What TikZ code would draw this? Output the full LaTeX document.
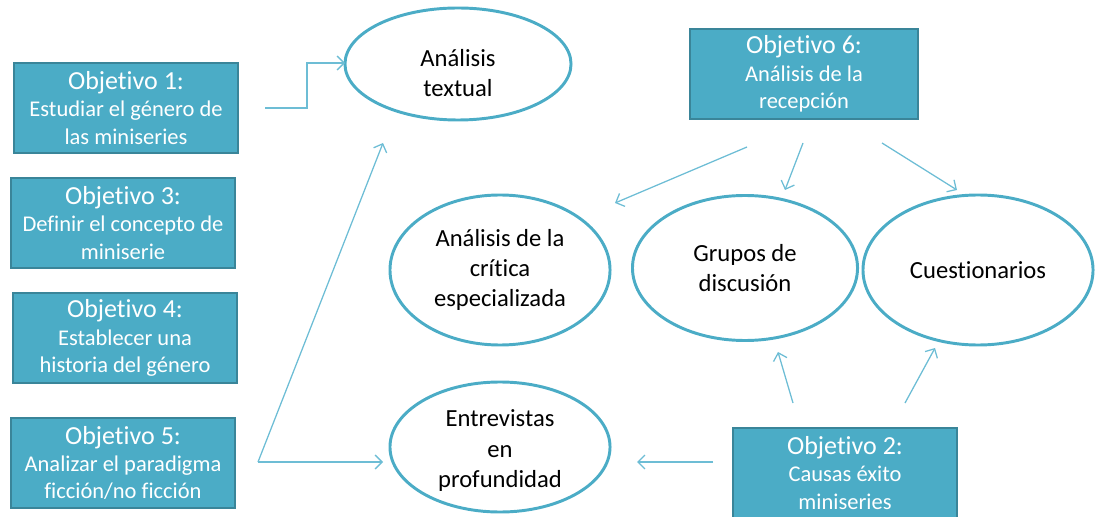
\documentclass[tikz,border=0pt]{standalone}
\usepackage{fontspec}
\setmainfont{Carlito}[Ligatures=NoCommon]
\usetikzlibrary{shapes.geometric,arrows.meta}
\definecolor{objfill}{HTML}{4BACC6}
\definecolor{objline}{HTML}{3A8599}
\definecolor{ovline}{HTML}{4BACC6}
\definecolor{arrline}{HTML}{6DBDD5}
\tikzset{
  objbox/.style={draw=objline, line width=1.4pt, fill=objfill, text=white,
    minimum width=5.6cm, minimum height=2.25cm, inner sep=0pt, align=center,
    font=\fontsize{16}{19.5}\selectfont},
  method/.style={ellipse, draw=ovline, line width=2.1pt, inner sep=0pt,
    align=center, font=\fontsize{17.5}{21.5}\selectfont},
  flow/.style={draw=arrline, line width=0.9pt, -{Straight Barb[length=5pt,width=10pt]}},
}
\newcommand{\objtitle}[1]{{\fontsize{18.5}{20}\selectfont Objetivo #1:}}
\begin{document}
\begin{tikzpicture}[x=0.025cm, y=-0.025cm]
    \useasboundingbox (0,0) rectangle (1103,517);
    % objetivos
    \node[objbox] (obj1) at (126,108) {\objtitle{1}\\Estudiar el género de\\las miniseries};
    \node[objbox] (obj3) at (123,223) {\objtitle{3}\\Definir el concepto de\\miniserie};
    \node[objbox] (obj4) at (125,338) {\objtitle{4}\\Establecer una\\historia del género};
    \node[objbox] (obj5) at (123,463) {\objtitle{5}\\Analizar el paradigma\\ficción/no ficción};
    \node[objbox, minimum width=5.7cm] (obj6) at (804,74) {\objtitle{6}\\Análisis de la\\recepción};
    \node[objbox] (obj2) at (845,473) {\objtitle{2}\\Causas éxito\\miniseries};
    % métodos
    \node[method, minimum width=5.65cm, minimum height=2.8cm] (textual) at (458,64) {};
    \node[method, draw=none] at ([yshift=-6.4pt]textual.center) {Análisis\\textual};
    \node[method, minimum width=5.5cm, minimum height=3.75cm] (critica) at (500,270) {Análisis de la\\crítica\\especializada};
    \node[method, minimum width=5.625cm, minimum height=3.625cm] (grupos) at (745,268) {Grupos de\\discusión};
    \node[method, minimum width=5.75cm, minimum height=3.75cm] (cuest) at (978,270) {Cuestionarios};
    \node[method, minimum width=5.5cm, minimum height=3.25cm] (entrev) at (500,447) {};
    \node[method, draw=none] at ([yshift=-2.5pt]entrev.center) {Entrevistas\\en\\profundidad};
    % extremos de las flechas
    \coordinate (a1) at (265,108); \coordinate (a2) at (345,63);
    \coordinate (b0) at (258,462); \coordinate (b1) at (383,143); \coordinate (b2) at (383,462);
    \coordinate (c0) at (747,147); \coordinate (c1) at (615,203);
    \coordinate (d0) at (803,143); \coordinate (d1) at (785,190);
    \coordinate (e0) at (882,143); \coordinate (e1) at (957,190);
    \coordinate (f0) at (793,403); \coordinate (f1) at (778,352);
    \coordinate (g0) at (905,403); \coordinate (g1) at (935,348);
    \coordinate (h0) at (713,462); \coordinate (h1) at (637,462);
    \draw[flow] (a1) -- (307,108) |- (a2);
    \draw[flow] (b0) -- (b1);
    \draw[flow] (b0) -- (b2);
    \foreach \s/\t in {c0/c1, d0/d1, e0/e1, f0/f1, g0/g1, h0/h1}
        \draw[flow] (\s) -- (\t);
\end{tikzpicture}
\end{document}
